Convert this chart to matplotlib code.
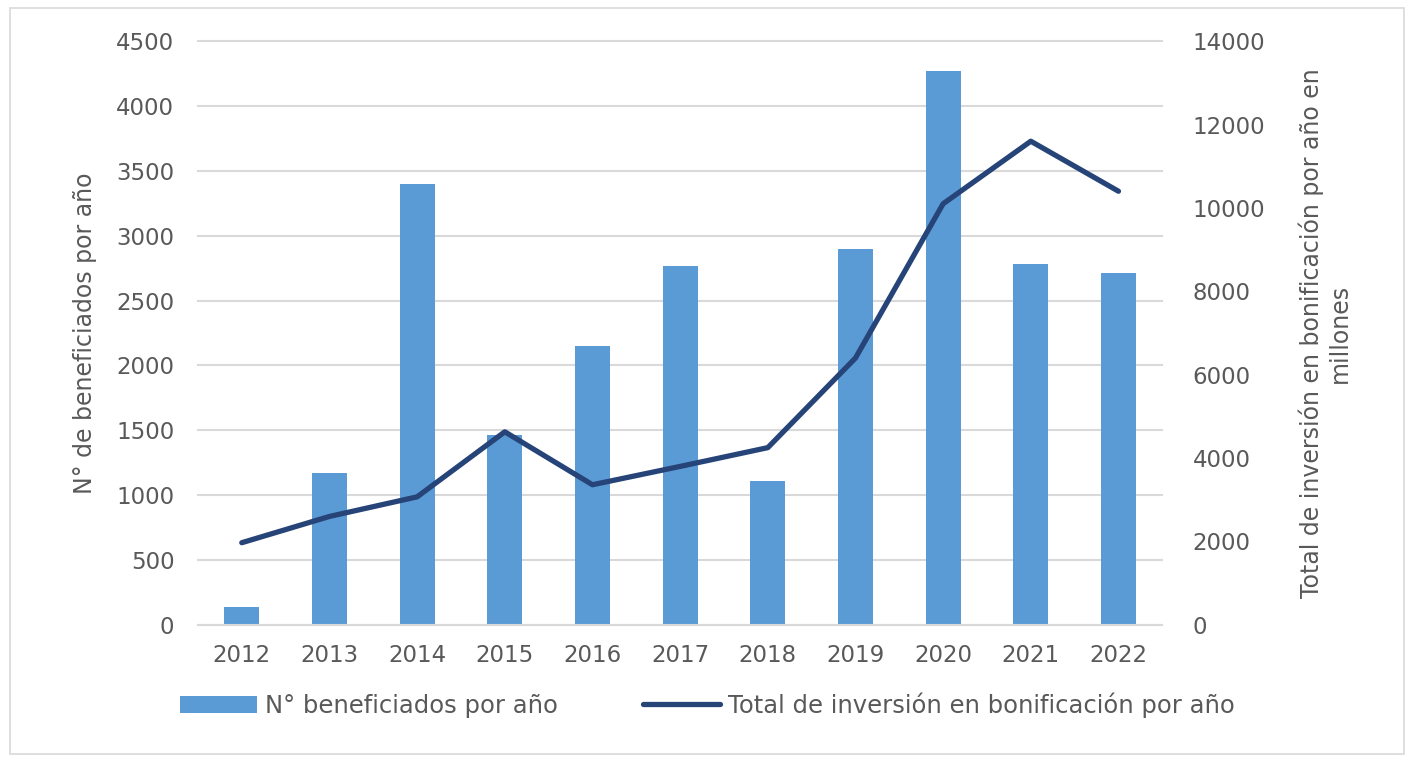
import numpy as np
from matplotlib import pyplot as plt
from matplotlib.patches import Rectangle

years = ['2012', '2013', '2014', '2015', '2016', '2017', '2018', '2019', '2020', '2021', '2022']
beneficiados = [140, 1170, 3400, 1460, 2150, 2770, 1110, 2900, 4270, 2780, 2710]
inversion = [1970, 2600, 3070, 4630, 3360, 3800, 4250, 6400, 10100, 11600, 10400]

label_bar = 'N° beneficiados por año'
label_line = 'Total de inversión en bonificación por año'
ylabel_left = 'N° de beneficiados por año'
ylabel_right = 'Total de inversión en bonificación por año en\nmillones'

txt = '#595959'
grid = '#D9D9D9'
plt.rcParams['font.family'] = ['DejaVu Sans']

fig = plt.figure(figsize=(14.14, 7.62), dpi=100)
ax = fig.add_axes([0.140, 0.180, 0.682, 0.766])
x = np.arange(len(years))

bars = ax.bar(x, beneficiados, width=0.4, color='#5B9BD5', zorder=2)
ax.set_ylim(0, 4500)
ax.set_yticks(np.arange(0, 4501, 500))
ax.set_xlim(-0.5, len(years) - 0.5)
ax.set_xticks(x)
ax.set_xticklabels(years)
ax.yaxis.grid(True, color=grid, linewidth=1.5, zorder=0)
for gl in ax.get_ygridlines():
    gl.set_clip_on(False)
ax.set_axisbelow(True)
for s in ['top', 'right', 'left']:
    ax.spines[s].set_visible(False)
ax.spines['bottom'].set_color(grid)
ax.spines['bottom'].set_linewidth(1.5)
ax.tick_params(axis='y', length=0, labelsize=16.5, colors=txt, pad=17)
ax.tick_params(axis='x', length=0, labelsize=16.5, colors=txt, pad=14)
ax.set_ylabel(ylabel_left, fontsize=17, color=txt, labelpad=14)

ax2 = ax.twinx()
line, = ax2.plot(x, inversion, color='#264478', linewidth=3.8, solid_capstyle='round', zorder=3)
ax2.set_ylim(0, 14000)
ax2.set_yticks(np.arange(0, 14001, 2000))
for s in ax2.spines.values():
    s.set_visible(False)
ax2.tick_params(axis='y', length=0, labelsize=16.5, colors=txt, pad=22)
ax2.set_ylabel(ylabel_right, fontsize=17, color=txt, labelpad=24)

fig.legend([bars, line], [label_bar, label_line], loc='center', bbox_to_anchor=(0.5, 0.075),
           ncol=2, frameon=False, fontsize=17.5, labelcolor=txt, columnspacing=3.5,
           handlelength=3.2, handletextpad=0.3)

fig.patches.append(Rectangle((0.007, 0.01), 0.986, 0.98, transform=fig.transFigure,
                             fill=False, edgecolor=grid, linewidth=1.2))

fig.savefig('out.png', dpi=100)
